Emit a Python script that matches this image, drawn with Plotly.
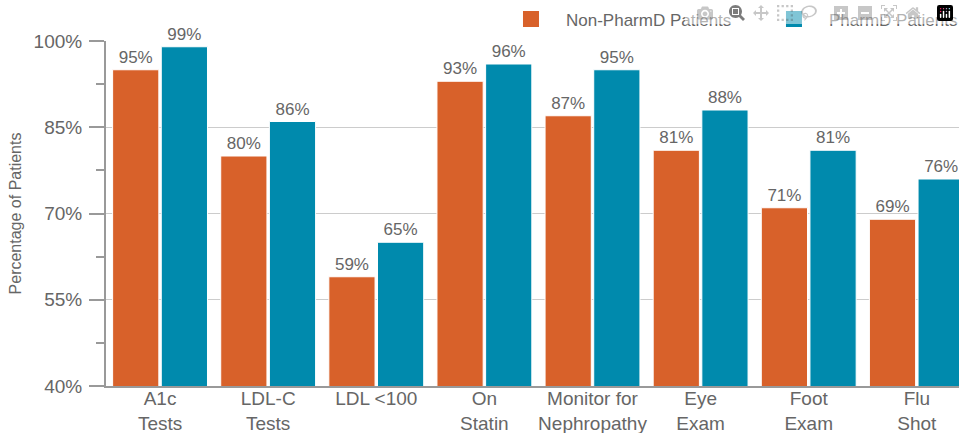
import plotly.graph_objects as go

categories = ["A1c<br>Tests", "LDL-C<br>Tests", "LDL &lt;100", "On<br>Statin",
              "Monitor for<br>Nephropathy", "Eye<br>Exam", "Foot<br>Exam", "Flu<br>Shot"]
non_pharmd = [95, 80, 59, 93, 87, 81, 71, 69]
pharmd = [99, 86, 65, 96, 95, 88, 81, 76]
series_names = ["Non-PharmD Patients", "PharmD Patients"]
colors = ["#D8612A", "#008AAD"]
y_ticks = [40, 55, 70, 85, 100]
y_tick_labels = [f"{v}%" for v in y_ticks]

FONT = "Liberation Sans, Arial, sans-serif"
GRAY = "#666666"

fig = go.Figure()
for name, vals, col in zip(series_names, [non_pharmd, pharmd], colors):
    fig.add_trace(go.Bar(
        x=categories, y=vals, name=name, showlegend=False,
        marker=dict(color=col, line=dict(color="white", width=1)),
        text=[f"{v}%" for v in vals], textposition="outside",
        textfont=dict(family=FONT, size=17, color=GRAY),
        cliponaxis=False,
    ))
for name, col, lg in zip(series_names, colors, ["legend", "legend2"]):
    fig.add_trace(go.Scatter(
        x=[None], y=[None], mode="markers", name=name, legend=lg,
        marker=dict(symbol="square", size=16, color=col),
    ))

legend_common = dict(orientation="h", xanchor="left", y=0.955, yanchor="middle",
                     yref="container", font=dict(family=FONT, size=17, color=GRAY),
                     itemwidth=60, bgcolor="rgba(0,0,0,0)")

fig.update_layout(
    width=959, height=433,
    margin=dict(l=106, r=0, t=41, b=47, autoexpand=False),
    paper_bgcolor="white", plot_bgcolor="white",
    barmode="group", bargap=0.1, bargroupgap=0.05,
    font=dict(family=FONT, color=GRAY),
    legend=dict(x=0.4572, **legend_common),
    legend2=dict(x=0.7655, **legend_common),
    xaxis=dict(range=[-0.5, 7.39],
               showline=True, linecolor="#999999", linewidth=2, ticks="",
               automargin=False, ticklabelstandoff=-6,
               tickfont=dict(family=FONT, size=19, color=GRAY), showgrid=False),
    yaxis=dict(range=[40, 100], tickvals=y_ticks, ticktext=y_tick_labels,
               automargin=False, ticklabelstandoff=3,
               tickfont=dict(family=FONT, size=19, color=GRAY),
               showline=True, linecolor="#999999", linewidth=2,
               ticks="outside", ticklen=15, tickcolor="#999999", tickwidth=2,
               showgrid=True, gridcolor="#cccccc", gridwidth=1, zeroline=False,
               minor=dict(dtick=7.5, tick0=40, ticks="outside", ticklen=8,
                          tickcolor="#999999", tickwidth=2, showgrid=False),
               title=dict(text="Percentage of Patients",
                          font=dict(family=FONT, size=16, color=GRAY), standoff=8)),
)
fig.write_html(
    "out.html",
    post_script="document.body.style.margin='0';"
                "document.documentElement.style.overflow='hidden';",
)
